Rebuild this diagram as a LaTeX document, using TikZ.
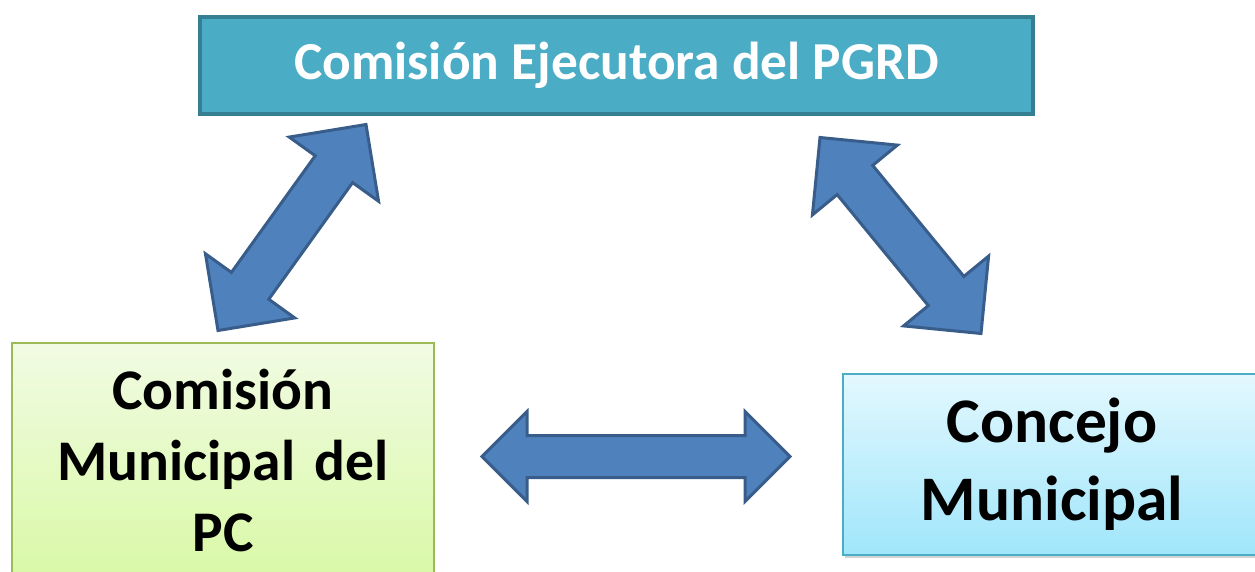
\documentclass[tikz,border=0pt]{standalone}
\usepackage{fontspec}
\setmainfont{Carlito}
\usetikzlibrary{shapes,calc,shadows}

\definecolor{tealfill}{HTML}{4BACC6}
\definecolor{tealedge}{HTML}{367F93}
\definecolor{arrowfill}{HTML}{4F81BD}
\definecolor{arrowedge}{HTML}{385D8A}
\definecolor{greentop}{HTML}{F1FBE3}
\definecolor{greenbottom}{HTML}{D9F9A6}
\definecolor{greenedge}{HTML}{9BBB59}
\definecolor{bluetop}{HTML}{E3F8FE}
\definecolor{bluebottom}{HTML}{A0E6FB}
\definecolor{blueedge}{HTML}{4BACC6}

% double headed block arrow: start, end, head length, head half width, shaft half width
\newcommand{\dblarrow}[5]{%
  \draw[block_arrow] (#1)
    -- ($(#1)!#3!(#2)!#4!90:(#2)$)
    -- ($(#1)!#3!(#2)!#5!90:(#2)$)
    -- ($(#2)!#3!(#1)!#5!-90:(#1)$)
    -- ($(#2)!#3!(#1)!#4!-90:(#1)$)
    -- (#2)
    -- ($(#2)!#3!(#1)!#4!90:(#1)$)
    -- ($(#2)!#3!(#1)!#5!90:(#1)$)
    -- ($(#1)!#3!(#2)!#5!-90:(#2)$)
    -- ($(#1)!#3!(#2)!#4!-90:(#2)$)
    -- cycle;}

\begin{document}
\begin{tikzpicture}[x=1pt,y=-1pt,
    block_top/.style ={rectangle, draw=tealedge, line width=4pt, fill=tealfill,
      text=white, minimum width=833pt, minimum height=97pt,
      font=\fontsize{53.4}{64}\selectfont\bfseries},
    block_green/.style ={rectangle, draw=greenedge, line width=1.5pt,
      top color=greentop, bottom color=greenbottom, text width=400pt, align=center,
      minimum width=422pt, minimum height=236pt,
      font=\fontsize{57.5}{71}\selectfont\bfseries},
    block_blue/.style ={rectangle, draw=blueedge, line width=2pt,
      top color=bluetop, bottom color=bluebottom, text width=400pt, align=center,
      minimum width=418pt, minimum height=181pt,
      drop shadow={shadow xshift=2pt, shadow yshift=-3pt, opacity=0.35},
      font=\fontsize{63.5}{78}\selectfont\bfseries},
    block_arrow/.style ={draw=arrowedge, fill=arrowfill, line width=3pt, line join=miter}]
    \useasboundingbox (0,0) rectangle (1255,571);
    % boxes
    \node [block_top] (ejecutora) at (616.5,65.5) {Comisión Ejecutora del PGRD};
    \node [block_green] (comision) at (223,461) {Comisión\\Municipal del\\PC};
    \node [block_blue] (concejo) at (1052,464.5) {Concejo\\Municipal};
    % arrow ends
    \coordinate (ce_a) at (218,330.5);
    \coordinate (ce_b) at (366,124.5);
    \coordinate (cc_a) at (820,137.5);
    \coordinate (cc_b) at (981,333.5);
    \coordinate (mc_a) at (482,456.5);
    \coordinate (mc_b) at (790,456.5);
    % connecting boxes with block arrows
    \dblarrow{ce_a}{ce_b}{55pt}{55pt}{23pt}
    \dblarrow{cc_a}{cc_b}{55pt}{55pt}{23pt}
    \dblarrow{mc_a}{mc_b}{45pt}{45pt}{21pt}
\end{tikzpicture}
\end{document}
